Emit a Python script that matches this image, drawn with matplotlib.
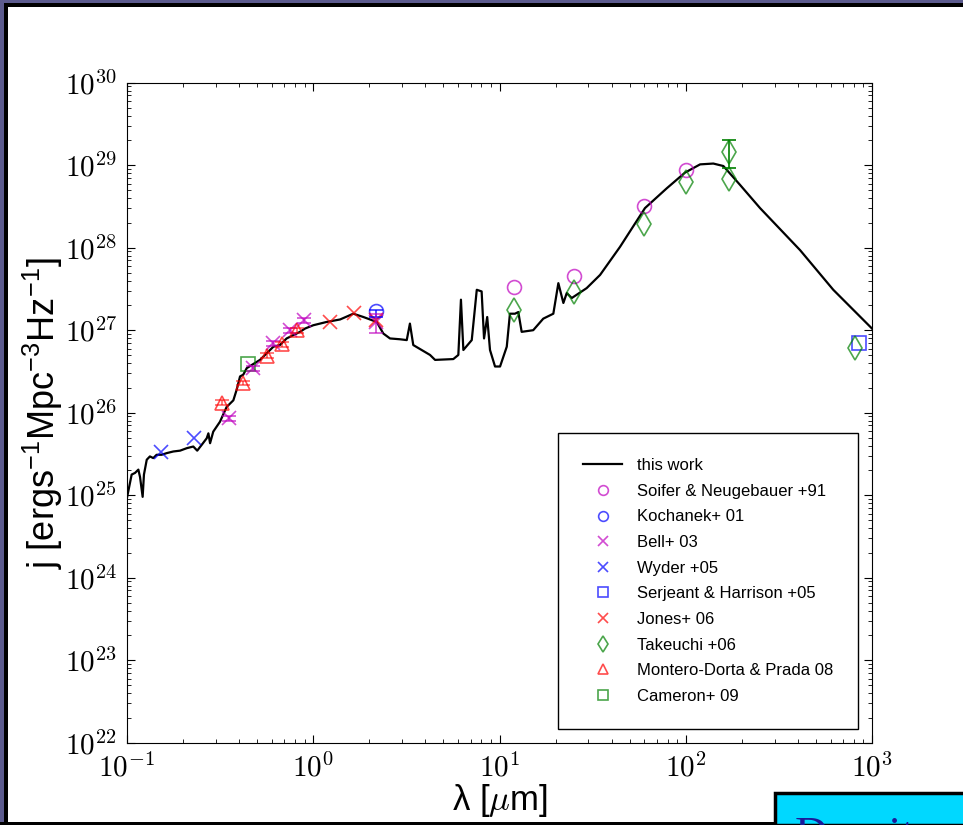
import numpy as np
import matplotlib
matplotlib.use("Agg")
import matplotlib.pyplot as plt
from matplotlib.patches import Rectangle
from matplotlib.ticker import FuncFormatter, LogLocator, NullFormatter

plt.rcParams['font.family'] = ['Liberation Sans', 'DejaVu Sans']
plt.rcParams['mathtext.fontset'] = 'cm'

# model SED ("this work"), log10(lambda / um) and log10(j)
sed_loglam = [-1.000, -0.975, -0.957, -0.939, -0.930, -0.916, -0.909, -0.894, -0.877, -0.859,
              -0.841, -0.814, -0.787, -0.751, -0.715, -0.679, -0.644, -0.623, -0.599, -0.572,
              -0.563, -0.554, -0.537, -0.501, -0.465, -0.429, -0.411, -0.393, -0.376, -0.357,
              -0.322, -0.286, -0.250, -0.214, -0.179, -0.143, -0.107, -0.071, -0.044, 0.000,
              0.072, 0.144, 0.215, 0.269, 0.341, 0.376, 0.412, 0.466, 0.502, 0.519,
              0.537, 0.627, 0.654, 0.752, 0.779, 0.793, 0.806, 0.851, 0.878, 0.904,
              0.917, 0.934, 0.949, 0.976, 1.003, 1.039, 1.056, 1.083, 1.101, 1.119,
              1.181, 1.235, 1.289, 1.316, 1.343, 1.361, 1.388, 1.468, 1.540, 1.647,
              1.781, 1.898, 1.996, 2.077, 2.148, 2.202, 2.292, 2.399, 2.614, 2.792, 3.000]
sed_logj = [24.97, 25.25, 25.27, 25.31, 25.22, 24.98, 25.25, 25.43, 25.47, 25.45,
            25.49, 25.49, 25.51, 25.53, 25.54, 25.57, 25.59, 25.54, 25.61, 25.69,
            25.75, 25.63, 25.77, 25.89, 26.07, 26.15, 26.28, 26.44, 26.46, 26.54,
            26.59, 26.64, 26.72, 26.80, 26.82, 26.90, 26.94, 26.98, 27.02, 27.06,
            27.10, 27.13, 27.20, 27.16, 27.10, 26.96, 26.90, 26.89, 26.88, 27.08,
            26.82, 26.70, 26.64, 26.65, 26.70, 27.37, 26.76, 26.88, 27.49, 27.47,
            26.90, 27.16, 26.76, 26.56, 26.56, 26.80, 27.20, 27.20, 27.22, 26.98,
            27.00, 27.14, 27.20, 27.57, 27.33, 27.45, 27.39, 27.51, 27.67, 28.01,
            28.48, 28.72, 28.91, 29.01, 29.02, 28.99, 28.76, 28.48, 27.97, 27.49, 27.02]

# observations: wavelength (um), log10(j)
soifer_lam = [12, 25, 60, 100]
soifer_logj = [27.52, 27.66, 28.50, 28.94]
kochanek_lam = [2.17]
kochanek_logj = [27.23]
kochanek_lo, kochanek_hi = [27.16], [27.25]
bell_lam = [0.354, 0.473, 0.61, 0.75, 0.89, 2.17]
bell_logj = [25.93, 26.54, 26.84, 27.00, 27.12, 27.10]
bell_lo = [25.90, 26.51, 26.81, 26.97, 27.09, 26.96]
bell_hi = [25.96, 26.57, 26.87, 27.03, 27.15, 27.20]
wyder_lam = [0.152, 0.229]
wyder_logj = [25.52, 25.69]
serjeant_lam = [850]
serjeant_logj = [26.85]
jones_lam = [1.23, 1.65, 2.17]
jones_logj = [27.10, 27.21, 27.12]
takeuchi_lam = [12, 25, 60, 100, 170, 170, 810]
takeuchi_logj = [27.24, 27.46, 28.29, 28.80, 29.16, 28.83, 26.79]
takeuchi_err_lam = [170]
takeuchi_err_logj = [29.16]
takeuchi_lo, takeuchi_hi = [28.96], [29.30]
montero_lam = [0.3225, 0.421, 0.562, 0.680, 0.815]
montero_logj = [26.12, 26.36, 26.69, 26.83, 27.00]
montero_lo = [26.09, 26.33, 26.66, 26.80, 26.97]
montero_hi = [26.15, 26.39, 26.72, 26.86, 27.03]
cameron_lam = [0.445]
cameron_logj = [26.59]


def lin(v):
    return 10.0 ** np.asarray(v, dtype=float)


def yerr(mid, lo, hi):
    m = lin(mid)
    return [m - lin(lo), lin(hi) - m]


fig = plt.figure(figsize=(9.63, 8.25), dpi=100)

# slide frame around the screenshot
purple = '#5c5b8e'
fig.add_artist(Rectangle((0, 1 - 3 / 825), 1, 3 / 825, transform=fig.transFigure, color=purple, lw=0))
fig.add_artist(Rectangle((0, 1 - 6.5 / 825), 1, 3.5 / 825, transform=fig.transFigure, color='k', lw=0))
fig.add_artist(Rectangle((0, 0), 4 / 963, 1 - 3 / 825, transform=fig.transFigure, color=purple, lw=0))
fig.add_artist(Rectangle((4 / 963, 0), 4 / 963, 1 - 3 / 825, transform=fig.transFigure, color='k', lw=0))
fig.add_artist(Rectangle((0, 0), 1, 3 / 825, transform=fig.transFigure, color='k', lw=0))
fig.add_artist(Rectangle((775 / 963, 0), 1, 32 / 825, transform=fig.transFigure,
                         facecolor='#00d8ff', edgecolor='k', lw=2.5))
fig.text(795 / 963, -24 / 825, 'Density', color='#1a1a9a', fontsize=33,
         family='Liberation Serif', ha='left', va='baseline')

ax = fig.add_axes([127 / 963, 82.3 / 825, 745 / 963, 660 / 825])

ax.plot(lin(sed_loglam), lin(sed_logj), color='k', lw=1.6, label='this work', zorder=3)

kw = dict(ls='none', mfc='none', ms=10, mew=1.2, alpha=0.7, zorder=4)
ax.plot(soifer_lam, lin(soifer_logj), marker='o', mec='m', label='Soifer & Neugebauer +91', **kw)
ax.plot(kochanek_lam, lin(kochanek_logj), marker='o', mec='b', label='Kochanek+ 01', **kw)
ax.plot(bell_lam, lin(bell_logj), marker='x', mec='m', label='Bell+ 03', **kw)
ax.plot(wyder_lam, lin(wyder_logj), marker='x', mec='b', label='Wyder +05', **kw)
ax.plot(serjeant_lam, lin(serjeant_logj), marker='s', mec='b', label='Serjeant & Harrison +05', **kw)
ax.plot(jones_lam, lin(jones_logj), marker='x', mec='r', label='Jones+ 06', **kw)
ax.plot(takeuchi_lam, lin(takeuchi_logj), marker='d', mec='g', label='Takeuchi +06',
        **dict(kw, ms=12))
ax.plot(montero_lam, lin(montero_logj), marker='^', mec='r', label='Montero-Dorta & Prada 08', **kw)
ax.plot(cameron_lam, lin(cameron_logj), marker='s', mec='g', label='Cameron+ 09', **kw)

ekw = dict(fmt='none', capsize=5, elinewidth=1.2, capthick=1.2, zorder=4)
ax.errorbar(kochanek_lam, lin(kochanek_logj), yerr=yerr(kochanek_logj, kochanek_lo, kochanek_hi),
            ecolor='b', alpha=0.8, **ekw)
ax.errorbar(bell_lam, lin(bell_logj), yerr=yerr(bell_logj, bell_lo, bell_hi),
            ecolor='m', alpha=0.7, **ekw)
ax.errorbar(montero_lam, lin(montero_logj), yerr=yerr(montero_logj, montero_lo, montero_hi),
            ecolor='r', alpha=0.6, **ekw)
ax.errorbar(takeuchi_err_lam, lin(takeuchi_err_logj),
            yerr=yerr(takeuchi_err_logj, takeuchi_lo, takeuchi_hi), ecolor='g', **ekw)

ax.set_xscale('log')
ax.set_yscale('log')
ax.set_xlim(0.1, 1000)
ax.set_ylim(1e22, 1e30)

fmt = FuncFormatter(lambda v, p: r'$10^{%d}$' % int(round(np.log10(v))))
ax.xaxis.set_major_formatter(fmt)
ax.yaxis.set_major_formatter(fmt)
ax.yaxis.set_major_locator(LogLocator(base=10, numticks=20))
for a in (ax.xaxis, ax.yaxis):
    a.set_minor_locator(LogLocator(base=10, subs=np.arange(2, 10), numticks=100))
    a.set_minor_formatter(NullFormatter())
ax.tick_params(which='both', direction='in', top=True, right=True, labelsize=21)
ax.tick_params(which='major', length=6, width=0.8)
ax.tick_params(which='minor', length=3, width=0.6)
ax.tick_params(axis='y', pad=7)
ax.tick_params(axis='x', pad=8)

xl = ax.set_xlabel('λ [$\\mu$m]', fontsize=25, labelpad=-1)
yl = ax.set_ylabel('j [ergs$^{-1}$Mpc$^{-3}$Hz$^{-1}$]', fontsize=26, labelpad=0)
plt.rcParams['mathtext.rm'] = 'Liberation Sans'
plt.rcParams['mathtext.it'] = 'Liberation Sans:italic'
plt.rcParams['mathtext.bf'] = 'Liberation Sans:bold'
yl.set_math_fontfamily('custom')

leg = ax.legend(loc='lower right', bbox_to_anchor=(731 / 745, 13.7 / 660), borderaxespad=0,
                fontsize=12, markerscale=0.7, numpoints=1, fancybox=False, framealpha=1,
                borderpad=1.5, labelspacing=0.64, handlelength=2.3, handletextpad=0.9)
leg.get_frame().set_edgecolor('k')
leg.get_frame().set_linewidth(1.0)

fig.savefig('out.png', dpi=100)
